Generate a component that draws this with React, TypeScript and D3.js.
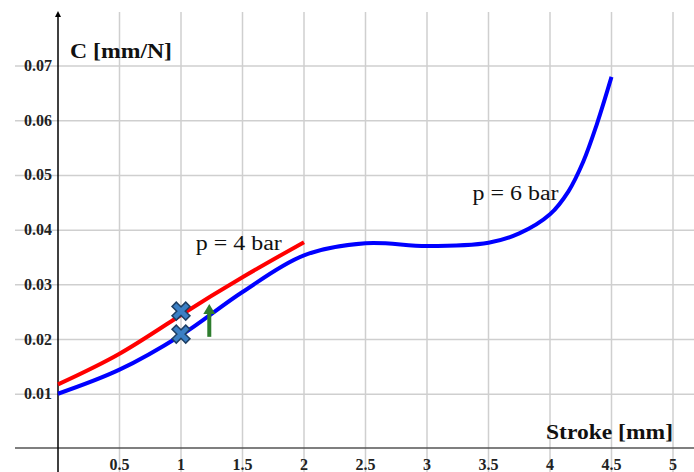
import React, { useRef, useEffect } from "react";
import * as d3 from "d3";

// values
const xTicks = [0.5, 1, 1.5, 2, 2.5, 3, 3.5, 4, 4.5, 5];
const yTicks = [0.01, 0.02, 0.03, 0.04, 0.05, 0.06, 0.07];
const red4bar: [number, number][] = [
  [0, 0.0118],
  [0.5, 0.0174],
  [1, 0.0245],
  [1.5, 0.0314],
  [2, 0.0378],
];
const blue6bar: [number, number][] = [
  [0, 0.0101],
  [0.5, 0.0145],
  [1, 0.0208],
  [1.5, 0.0287],
  [2, 0.0354],
  [2.5, 0.0376],
  [3, 0.0371],
  [3.5, 0.0377],
  [3.75, 0.0394],
  [4, 0.0429],
  [4.15, 0.0471],
  [4.27, 0.0525],
  [4.38, 0.0593],
  [4.5, 0.068],
];
const markers: [number, number][] = [
  [1, 0.0252],
  [1, 0.021],
];
const arrow = { x: 1.23, from: 0.0205, to: 0.0265 };
const labels = [
  { text: "p = 4 bar", x: 1.12, y: 0.0364, len: 86 },
  { text: "p = 6 bar", x: 3.37, y: 0.0456, len: 86 },
];

function App() {
  const ref = useRef<HTMLDivElement>(null);

  function drawChart() {
    const [width, height] = [694, 472];
    const font = '"Liberation Serif", "DejaVu Serif", serif';
    const x = d3.scaleLinear().domain([0, 5]).range([58, 673]);
    const y = d3.scaleLinear().domain([0, 0.07]).range([449, 66]);

    d3.select(ref.current).selectAll("*").remove();
    const svg = d3
      .select(ref.current)
      .append("svg")
      .attr("width", width)
      .attr("height", height)
      .attr("viewBox", [0, 0, width, height])
      .style("position", "absolute")
      .style("left", 0)
      .style("top", 0)
      .style("background", "#fff")
      .style("font-family", font);

    // grid
    const grid = svg.append("g").attr("stroke", "#cfcfcf").attr("stroke-width", 1.5);
    grid
      .selectAll(".h")
      .data(yTicks)
      .join("line")
      .attr("class", "h")
      .attr("x1", 15)
      .attr("x2", width)
      .attr("y1", (d) => y(d))
      .attr("y2", (d) => y(d));
    grid
      .selectAll(".v")
      .data(xTicks)
      .join("line")
      .attr("class", "v")
      .attr("x1", (d) => x(d))
      .attr("x2", (d) => x(d))
      .attr("y1", 12)
      .attr("y2", height);

    // axes
    svg
      .append("line")
      .attr("x1", 15)
      .attr("x2", width)
      .attr("y1", y(0) - 1)
      .attr("y2", y(0) - 1)
      .attr("stroke", "#555")
      .attr("stroke-width", 1.5);
    svg
      .append("line")
      .attr("x1", x(0))
      .attr("x2", x(0))
      .attr("y1", 14)
      .attr("y2", height)
      .attr("stroke", "#000")
      .attr("stroke-width", 1.5);
    svg
      .append("path")
      .attr("d", `M${x(0) - 3},${17}L${x(0)},${11}L${x(0) + 3},${17}Z`)
      .attr("fill", "#000");

    // tick labels
    svg
      .append("g")
      .style("font-weight", "bold")
      .style("font-size", "16px")
      .attr("fill", "#222")
      .selectAll("text")
      .data(yTicks)
      .join("text")
      .attr("x", 52)
      .attr("y", (d) => y(d) + 5)
      .attr("text-anchor", "end")
      .text((d) => d3.format(".2f")(d));
    svg
      .append("g")
      .style("font-weight", "bold")
      .style("font-size", "16px")
      .attr("fill", "#222")
      .selectAll("text")
      .data(xTicks)
      .join("text")
      .attr("x", (d) => x(d))
      .attr("y", 470)
      .attr("text-anchor", "middle")
      .text((d) => String(d));

    // axis titles
    svg
      .append("text")
      .attr("x", 70)
      .attr("y", 58)
      .style("font-weight", "bold")
      .style("font-size", "22px")
      .attr("fill", "#111")
      .attr("textLength", 102)
      .attr("lengthAdjust", "spacingAndGlyphs")
      .text("C [mm/N]");
    svg
      .append("text")
      .attr("x", 546)
      .attr("y", 439)
      .style("font-weight", "bold")
      .style("font-size", "22px")
      .attr("fill", "#111")
      .attr("textLength", 127)
      .attr("lengthAdjust", "spacingAndGlyphs")
      .text("Stroke [mm]");

    // curves
    const line = (curve: d3.CurveFactory) =>
      d3
        .line<[number, number]>()
        .x((d) => x(d[0]))
        .y((d) => y(d[1]))
        .curve(curve);
    svg
      .append("path")
      .datum(red4bar)
      .attr("d", line(d3.curveNatural))
      .attr("fill", "none")
      .attr("stroke", "#f00")
      .attr("stroke-width", 4);
    svg
      .append("path")
      .datum(blue6bar)
      .attr("d", line(d3.curveCatmullRom.alpha(0.5)))
      .attr("fill", "none")
      .attr("stroke", "#00f")
      .attr("stroke-width", 4);

    // curve labels
    svg
      .append("g")
      .style("font-size", "20px")
      .attr("fill", "#111")
      .selectAll("text")
      .data(labels)
      .join("text")
      .attr("x", (d) => x(d.x))
      .attr("y", (d) => y(d.y))
      .attr("textLength", (d) => d.len)
      .attr("lengthAdjust", "spacingAndGlyphs")
      .text((d) => d.text);

    // green arrow
    const ax = x(arrow.x);
    const y0 = y(arrow.from);
    const y1 = y(arrow.to);
    svg
      .append("line")
      .attr("x1", ax)
      .attr("x2", ax)
      .attr("y1", y0)
      .attr("y2", y1 + 8)
      .attr("stroke", "#2e7d2e")
      .attr("stroke-width", 4);
    svg
      .append("path")
      .attr("d", `M${ax - 6},${y1 + 10}L${ax},${y1}L${ax + 6},${y1 + 10}Z`)
      .attr("fill", "#2e7d2e");

    // X markers
    const cross = d3.symbol().type(d3.symbolX).size(60);
    svg
      .append("g")
      .selectAll("path")
      .data(markers)
      .join("path")
      .attr("transform", (d) => `translate(${x(d[0])},${y(d[1])})`)
      .attr("d", cross)
      .attr("stroke", "#1d3e63")
      .attr("stroke-width", 7.5)
      .attr("stroke-linecap", "square");
    svg
      .append("g")
      .selectAll("path")
      .data(markers)
      .join("path")
      .attr("transform", (d) => `translate(${x(d[0])},${y(d[1])})`)
      .attr("d", cross)
      .attr("stroke", "#3b7fc4")
      .attr("stroke-width", 4.5)
      .attr("stroke-linecap", "square");
  }

  useEffect(() => {
    drawChart();
  }, []);

  return <div ref={ref} />;
}

export default App;
